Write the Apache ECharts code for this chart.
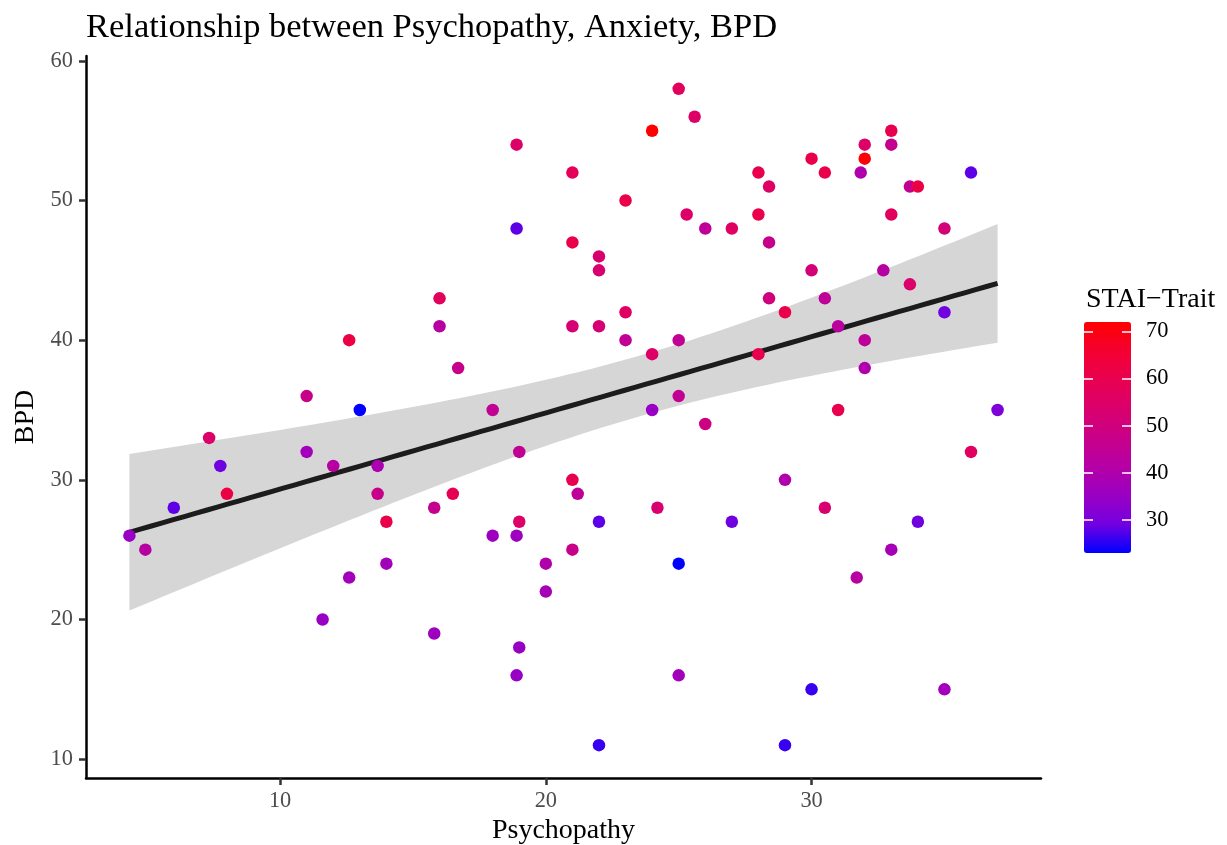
<!DOCTYPE html>
<html>
<head>
<meta charset="utf-8">
<script src="https://cdn.jsdelivr.net/npm/echarts@6/dist/echarts.min.js"></script>
<style>
  html, body { margin: 0; padding: 0; background: #ffffff; }
  #chart { width: 1227px; height: 845px; }
</style>
</head>
<body>
<div id="chart"></div>
<script>
// ---- data ----
const psychopathy = [
  4.33, 4.93, 6, 7.33, 7.75, 8, 11, 11, 11.6, 12, 12.6, 12.6, 13, 13.67, 13.67, 14, 14,
  15.8, 15.8, 16, 16, 16.5, 16.7, 18, 18, 18.9, 18.9, 18.9, 18.9, 19, 19, 19, 20, 20,
  21, 21, 21, 21, 21, 21.2, 22, 22, 22, 22, 22, 23, 23, 23, 24, 24, 24, 24.2,
  25, 25, 25, 25, 25, 25.6, 25.3, 26, 26, 27, 27, 28, 28, 28, 28.4, 28.4, 28.4,
  29, 29, 29, 30, 30, 30, 30.5, 30.5, 30.5, 31, 31, 31.7, 31.85, 32, 32, 32, 32, 32.7,
  33, 33, 33, 33, 33.7, 34, 33.7, 34, 35, 35, 35, 36, 36, 37
];
const bpd = [
  26, 25, 28, 33, 31, 29, 36, 32, 20, 31, 40, 23, 35, 31, 29, 27, 24,
  28, 19, 43, 41, 29, 38, 35, 26, 54, 48, 26, 16, 32, 27, 18, 24, 22,
  52, 47, 41, 30, 25, 29, 46, 45, 41, 27, 11, 50, 42, 40, 55, 39, 35, 28,
  58, 40, 36, 24, 16, 56, 49, 48, 34, 48, 27, 52, 49, 39, 51, 47, 43,
  42, 30, 11, 53, 45, 15, 52, 43, 28, 41, 35, 23, 52, 54, 53, 40, 38, 45,
  55, 54, 49, 25, 51, 51, 44, 27, 48, 42, 15, 52, 32, 35
];
const staiTrait = [
  35, 42, 28, 54, 29, 62, 47, 37, 35, 42, 62, 37, 23, 39, 47, 61, 37,
  46, 36, 57, 42, 59, 47, 45, 36, 55, 28, 36, 35, 45, 55, 35, 40, 38,
  58, 61, 52, 60, 47, 44, 53, 53, 52, 28, 26, 61, 56, 45, 72, 55, 35, 53,
  57, 45, 45, 23, 37, 55, 55, 44, 49, 56, 29, 60, 61, 60, 55, 47, 50,
  61, 40, 26, 61, 51, 26, 61, 44, 53, 43, 60, 42, 40, 55, 71, 44, 40, 42,
  60, 46, 57, 38, 46, 62, 54, 29, 51, 29, 37, 28, 56, 31
];
const xTicks = [10, 20, 30];
const yTicks = [10, 20, 30, 40, 50, 60];
const colourTicks = [30, 40, 50, 60, 70];
const colourRange = [23, 72];

// ---- linear model fit with 95% confidence band (as geom_smooth(method = "lm")) ----
const n = psychopathy.length;
const xbar = psychopathy.reduce((s, v) => s + v, 0) / n;
const ybar = bpd.reduce((s, v) => s + v, 0) / n;
let sxx = 0, sxy = 0;
for (let i = 0; i < n; i++) {
  sxx += (psychopathy[i] - xbar) ** 2;
  sxy += (psychopathy[i] - xbar) * (bpd[i] - ybar);
}
const slope = sxy / sxx;
const intercept = ybar - slope * xbar;
let sse = 0;
for (let i = 0; i < n; i++) sse += (bpd[i] - intercept - slope * psychopathy[i]) ** 2;
const sigma = Math.sqrt(sse / (n - 2));
const tCrit = 1.984;
const xMin = Math.min(...psychopathy), xMax = Math.max(...psychopathy);
const fitLine = [], band = [];
for (let i = 0; i < 80; i++) {
  const x = xMin + (xMax - xMin) * i / 79;
  const fit = intercept + slope * x;
  const se = sigma * Math.sqrt(1 / n + (x - xbar) ** 2 / sxx);
  fitLine.push([x, fit]);
  band.push([x, fit - tCrit * se, fit + tCrit * se]);
}
const points = psychopathy.map((x, i) => [x, bpd[i], staiTrait[i]]);

// axis ranges with ggplot-like 5% expansion
const yMinD = Math.min(...bpd), yMaxD = Math.max(...bpd);
const xPad = (xMax - xMin) * 0.05, yPad = (yMaxD - yMinD) * 0.05;

const serif = 'Liberation Serif';
const chart = echarts.init(document.getElementById('chart'), null, { renderer: 'canvas' });
chart.setOption({
  backgroundColor: '#ffffff',
  animation: false,
  title: [
    { text: 'Relationship between Psychopathy, Anxiety, BPD', left: 81, top: 5,
      textStyle: { fontFamily: serif, fontSize: 34.5, fontWeight: 'normal', color: '#000000' } },
    { text: 'STAI\u2212Trait', left: 1081, top: 281,
      textStyle: { fontFamily: serif, fontSize: 28, fontWeight: 'normal', color: '#000000' } }
  ],
  grid: [
    { left: 86, right: 186, top: 56, bottom: 67, containLabel: false, outerBoundsMode: 'none' },
    { left: 1084, top: 322, width: 47, height: 231, containLabel: false, outerBoundsMode: 'none' }
  ],
  xAxis: [
    { type: 'value', gridIndex: 0, min: xMin - xPad, max: xMax + xPad,
      name: 'Psychopathy', nameLocation: 'middle', nameGap: 35,
      nameTextStyle: { fontFamily: serif, fontSize: 28, color: '#000000' },
      axisLine: { show: true, onZero: false, lineStyle: { color: '#000000', width: 2.5 } },
      axisTick: { show: true, length: 7, customValues: xTicks, lineStyle: { color: '#333333', width: 2.5 } },
      axisLabel: { customValues: xTicks, margin: 12, fontFamily: serif, fontSize: 22.4, color: '#4D4D4D' },
      splitLine: { show: false } },
    { type: 'value', gridIndex: 1, show: false, min: 0, max: 1 }
  ],
  yAxis: [
    { type: 'value', gridIndex: 0, min: yMinD - yPad, max: yMaxD + yPad,
      name: 'BPD', nameLocation: 'middle', nameGap: 45,
      nameTextStyle: { fontFamily: serif, fontSize: 28, color: '#000000' },
      axisLine: { show: true, onZero: false, lineStyle: { color: '#000000', width: 2.5 } },
      axisTick: { show: true, length: 7, customValues: yTicks, lineStyle: { color: '#333333', width: 2.5 } },
      axisLabel: { customValues: yTicks, margin: 13, fontFamily: serif, fontSize: 22.4, color: '#4D4D4D' },
      splitLine: { show: false } },
    { type: 'value', gridIndex: 1, position: 'left', min: colourRange[0], max: colourRange[1], z: 10,
      axisLine: { show: false },
      axisTick: { show: true, inside: true, length: 9, customValues: colourTicks, lineStyle: { color: '#ffffff', width: 1.5 } },
      axisLabel: { show: false },
      splitLine: { show: false } },
    { type: 'value', gridIndex: 1, position: 'right', min: colourRange[0], max: colourRange[1], z: 10,
      axisLine: { show: false },
      axisTick: { show: true, inside: true, length: 9, customValues: colourTicks, lineStyle: { color: '#ffffff', width: 1.5 } },
      axisLabel: { customValues: colourTicks, margin: 15, fontFamily: serif, fontSize: 22.4, color: '#000000' },
      splitLine: { show: false } }
  ],
  visualMap: {
    type: 'continuous', seriesIndex: 2, dimension: 2,
    min: colourRange[0], max: colourRange[1],
    calculable: false, realtime: false, showLabel: false, text: null,
    orient: 'vertical', left: 1084, top: 322, itemWidth: 47, itemHeight: 231, padding: 0,
    inRange: { color: ['#0000FF', '#7300E0', '#9A00C3', '#B500A5', '#C90088', '#DA006C', '#E80050', '#F40031', '#FF0000'] }
  },
  series: [
    { type: 'custom', name: 'band', data: [[xMin, yMinD]], silent: true, z: 1, clip: true,
      renderItem: function (params, api) {
        const pts = [];
        for (let i = 0; i < band.length; i++) pts.push(api.coord([band[i][0], band[i][2]]));
        for (let i = band.length - 1; i >= 0; i--) pts.push(api.coord([band[i][0], band[i][1]]));
        return { type: 'polygon', shape: { points: pts }, style: { fill: '#D6D6D6', stroke: null } };
      } },
    { type: 'line', name: 'fit', data: fitLine, symbol: 'none',
      lineStyle: { color: '#1C1C1C', width: 5 }, silent: true, z: 2 },
    { type: 'scatter', name: 'points', data: points, symbolSize: 12.5, z: 3,
      itemStyle: { opacity: 1 } }
  ]
});
</script>
</body>
</html>
